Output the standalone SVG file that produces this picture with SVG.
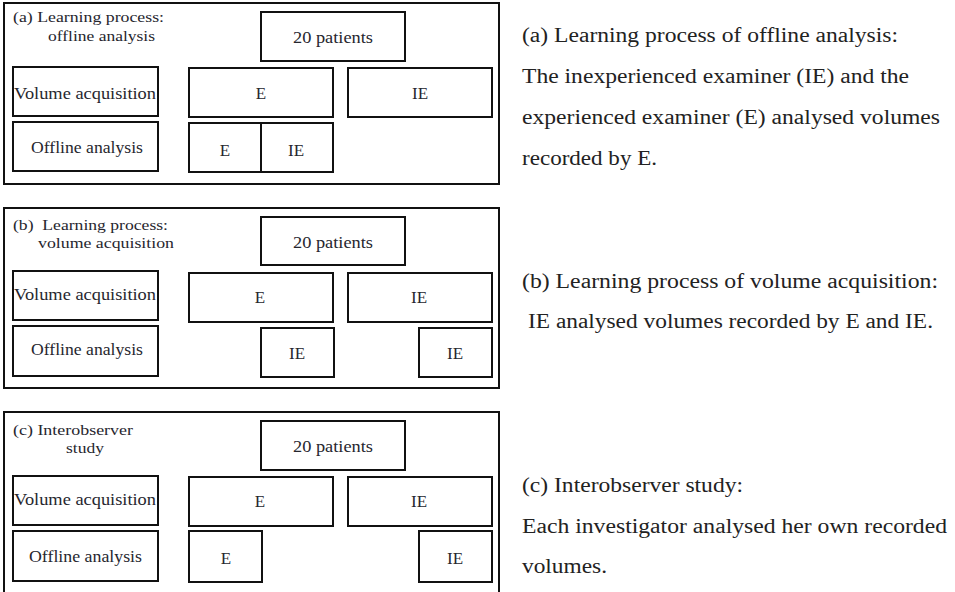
<svg xmlns="http://www.w3.org/2000/svg" width="955" height="592" viewBox="0 0 955 592">
<style>
.panel{fill:#fff;stroke:#111;stroke-width:2}
.box{fill:#fff;stroke:#111;stroke-width:2}
.lt{font-family:'Liberation Serif','Times New Roman',Times,serif;font-size:17px;fill:#26262e}
.tt{font-family:'Liberation Serif','Times New Roman',Times,serif;font-size:15px;fill:#26262e;white-space:pre}
.c{text-anchor:middle}
.rt{font-family:'Liberation Serif','Times New Roman',Times,serif;font-size:20px;fill:#222}
</style>
<rect width="955" height="592" fill="#fff"/>

<!-- Panel (a) -->
<g id="panel-a">
<rect class="panel" x="4" y="3" width="495" height="181"/>
<text class="tt" x="13" y="22" textLength="151" lengthAdjust="spacingAndGlyphs">(a) Learning process:</text>
<text class="tt" x="48" y="40.5" textLength="107" lengthAdjust="spacingAndGlyphs">offline analysis</text>
</g>
<g id="a-patients"><rect class="box" x="261" y="12" width="144" height="49"/><text class="lt" x="293" y="42.5" textLength="80" lengthAdjust="spacingAndGlyphs">20 patients</text></g>
<g id="a-volacq"><rect class="box" x="13" y="67" width="145" height="49"/><text class="lt" x="14" y="99" textLength="142" lengthAdjust="spacingAndGlyphs">Volume acquisition</text></g>
<g id="a-offline"><rect class="box" x="13" y="122" width="145" height="49"/><text class="lt" x="31" y="152.5" textLength="112" lengthAdjust="spacingAndGlyphs">Offline analysis</text></g>
<g id="a-E"><rect class="box" x="189" y="68" width="144" height="49"/><text class="lt c" x="261" y="98.5">E</text></g>
<g id="a-IE"><rect class="box" x="348" y="68" width="144" height="49"/><text class="lt c" x="420" y="98.5">IE</text></g>
<g id="a-offE"><rect class="box" x="189" y="123" width="72" height="49"/><text class="lt c" x="225" y="155.5">E</text></g>
<g id="a-offIE"><rect class="box" x="261" y="123" width="72" height="49"/><text class="lt c" x="296" y="155.5">IE</text></g>

<!-- Panel (b) -->
<g id="panel-b">
<rect class="panel" x="4" y="208" width="495" height="180"/>
<text class="tt" x="13" y="230" textLength="155" lengthAdjust="spacingAndGlyphs">(b)  Learning process:</text>
<text class="tt" x="38" y="248" textLength="136" lengthAdjust="spacingAndGlyphs">volume acquisition</text>
</g>
<g id="b-patients"><rect class="box" x="261" y="217" width="144" height="48"/><text class="lt" x="293" y="247.5" textLength="80" lengthAdjust="spacingAndGlyphs">20 patients</text></g>
<g id="b-volacq"><rect class="box" x="13" y="271" width="145" height="49"/><text class="lt" x="14" y="300" textLength="142" lengthAdjust="spacingAndGlyphs">Volume acquisition</text></g>
<g id="b-offline"><rect class="box" x="13" y="326" width="145" height="50"/><text class="lt" x="31" y="355" textLength="112" lengthAdjust="spacingAndGlyphs">Offline analysis</text></g>
<g id="b-E"><rect class="box" x="189" y="273" width="144" height="49"/><text class="lt c" x="260" y="303">E</text></g>
<g id="b-IE"><rect class="box" x="348" y="273" width="144" height="49"/><text class="lt c" x="419" y="303">IE</text></g>
<g id="b-offIE1"><rect class="box" x="261" y="328" width="73" height="49"/><text class="lt c" x="297" y="359">IE</text></g>
<g id="b-offIE2"><rect class="box" x="419" y="328" width="73" height="49"/><text class="lt c" x="455" y="359">IE</text></g>

<!-- Panel (c) -->
<g id="panel-c">
<rect class="panel" x="4" y="412" width="495" height="186"/>
<text class="tt" x="13" y="435" textLength="120" lengthAdjust="spacingAndGlyphs">(c) Interobserver</text>
<text class="tt" x="66" y="453" textLength="38" lengthAdjust="spacingAndGlyphs">study</text>
</g>
<g id="c-patients"><rect class="box" x="261" y="421" width="144" height="49"/><text class="lt" x="293" y="452" textLength="80" lengthAdjust="spacingAndGlyphs">20 patients</text></g>
<g id="c-volacq"><rect class="box" x="13" y="476" width="145" height="49"/><text class="lt" x="14" y="505" textLength="142" lengthAdjust="spacingAndGlyphs">Volume acquisition</text></g>
<g id="c-offline"><rect class="box" x="13" y="531" width="145" height="50"/><text class="lt" x="29" y="562" textLength="113" lengthAdjust="spacingAndGlyphs">Offline analysis</text></g>
<g id="c-E"><rect class="box" x="189" y="477" width="144" height="49"/><text class="lt c" x="260" y="507">E</text></g>
<g id="c-IE"><rect class="box" x="348" y="477" width="144" height="49"/><text class="lt c" x="419" y="507">IE</text></g>
<g id="c-offE"><rect class="box" x="189" y="531" width="73" height="51"/><text class="lt c" x="226" y="564">E</text></g>
<g id="c-offIE"><rect class="box" x="419" y="531" width="73" height="51"/><text class="lt c" x="455" y="564">IE</text></g>

<!-- Captions -->
<g id="caption-a">
<text class="rt" x="522" y="42" textLength="376" lengthAdjust="spacingAndGlyphs">(a) Learning process of offline analysis:</text>
<text class="rt" x="522" y="83" textLength="387" lengthAdjust="spacingAndGlyphs">The inexperienced examiner (IE) and the</text>
<text class="rt" x="522" y="124" textLength="418" lengthAdjust="spacingAndGlyphs">experienced examiner (E) analysed volumes</text>
<text class="rt" x="522" y="165" textLength="135" lengthAdjust="spacingAndGlyphs">recorded by E.</text>
</g>
<g id="caption-b">
<text class="rt" x="522" y="288" textLength="416" lengthAdjust="spacingAndGlyphs">(b) Learning process of volume acquisition:</text>
<text class="rt" x="528" y="328" textLength="405" lengthAdjust="spacingAndGlyphs">IE analysed volumes recorded by E and IE.</text>
</g>
<g id="caption-c">
<text class="rt" x="522" y="492" textLength="221" lengthAdjust="spacingAndGlyphs">(c) Interobserver study:</text>
<text class="rt" x="522" y="533" textLength="425" lengthAdjust="spacingAndGlyphs">Each investigator analysed her own recorded</text>
<text class="rt" x="522" y="573" textLength="85" lengthAdjust="spacingAndGlyphs">volumes.</text>
</g>
<g id="connectors"/>
</svg>
